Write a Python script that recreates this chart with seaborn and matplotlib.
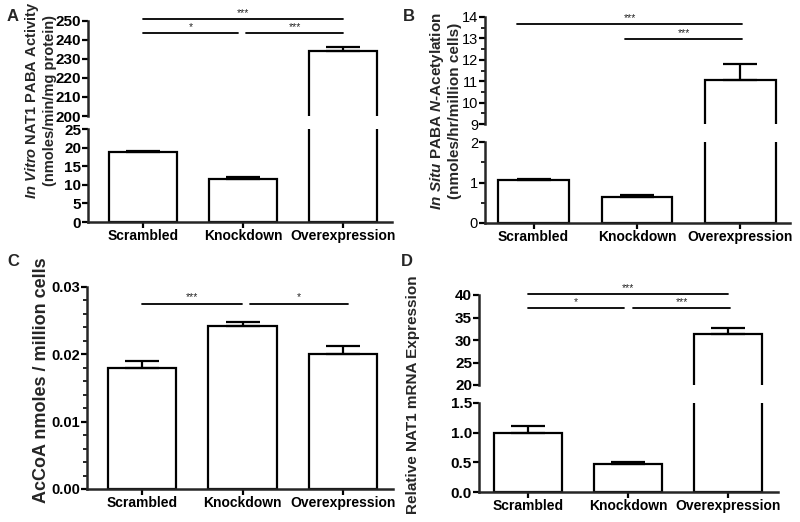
import numpy as np
import pandas as pd
import matplotlib
matplotlib.use('Agg')
import matplotlib.pyplot as plt
from matplotlib.ticker import MultipleLocator, FormatStrFormatter
import seaborn as sns

groups = ['Scrambled', 'Knockdown', 'Overexpression']

# A - in vitro NAT1 PABA activity
a_mean = [18.9, 11.6, 234.2]
a_err = [0.3, 0.6, 2.1]

# B - in situ PABA N-acetylation
b_mean = [1.05, 0.65, 11.06]
b_err = [0.04, 0.04, 0.73]

# C - AcCoA per million cells
c_mean = [0.0179, 0.0242, 0.0201]
c_err = [0.0011, 0.00055, 0.0012]

# D - relative NAT1 mRNA
d_mean = [1.0, 0.47, 31.3]
d_err = [0.11, 0.04, 1.35]

W, H = 800, 522


def box(left, right, top, bottom):
    # pixel box -> figure fraction rect
    return [left / W, 1 - bottom / H, (right - left) / W, (bottom - top) / H]


def style_axis(ax, bold=True, size=10):
    for s in ['left', 'bottom']:
        ax.spines[s].set_linewidth(1.8)
    ax.tick_params(axis='both', direction='out', length=4, width=1.6, colors='black', pad=1)
    ax.tick_params(axis='y', which='minor', length=3, width=1.4)
    for lab in ax.get_yticklabels():
        lab.set_fontweight('bold' if bold else 'normal')
        lab.set_fontsize(size)


def bars(ax, mean, err, xlim):
    df = pd.DataFrame({'group': groups, 'value': mean})
    sns.barplot(data=df, x='group', y='value', ax=ax, color='white', saturation=1,
                edgecolor='black', linewidth=1.6, width=0.68, errorbar=None)
    ax.errorbar(np.arange(len(groups)), mean, yerr=[np.zeros(len(mean)), err], fmt='none',
                ecolor='black', elinewidth=1.6, capsize=12, capthick=1.6)
    ax.set_xlim(*xlim)
    ax.set_xlabel('')
    ax.set_ylabel('')
    sns.despine(ax=ax)


def xlabels(ax):
    ax.set_xticks(range(len(groups)))
    ax.set_xticklabels(groups, fontsize=10, fontweight='bold')


def broken(fig, up_box, low_box, mean, err, xlim, up_lim, low_lim, up_step, low_step,
           fmt='%d', bold=True, size=10, minor=None):
    ax_up = fig.add_axes(up_box)
    ax_lo = fig.add_axes(low_box)
    bars(ax_up, mean, err, xlim)
    bars(ax_lo, mean, err, xlim)
    ax_up.set_ylim(*up_lim)
    ax_lo.set_ylim(*low_lim)
    ax_up.spines['bottom'].set_visible(False)
    ax_up.set_xticks([])
    ax_up.yaxis.set_major_locator(MultipleLocator(up_step))
    ax_lo.yaxis.set_major_locator(MultipleLocator(low_step))
    ax_up.yaxis.set_major_formatter(FormatStrFormatter('%d'))
    ax_lo.yaxis.set_major_formatter(FormatStrFormatter(fmt))
    if minor:
        ax_up.yaxis.set_minor_locator(MultipleLocator(minor))
        ax_lo.yaxis.set_minor_locator(MultipleLocator(minor))
    xlabels(ax_lo)
    style_axis(ax_up, bold, size)
    style_axis(ax_lo, bold, size)
    return ax_up, ax_lo


def sig(ax, x0, x1, y, label):
    ax.plot([x0, x1], [y, y], color='black', lw=1.3, clip_on=False)
    ax.annotate(label, ((x0 + x1) / 2, y), xytext=(0, 1), textcoords='offset points',
                ha='center', va='bottom', fontsize=7.5, annotation_clip=False)


sns.set_style('ticks')
plt.rcParams['font.family'] = ['Liberation Sans', 'DejaVu Sans']
plt.rcParams['mathtext.fontset'] = 'custom'
plt.rcParams['mathtext.it'] = 'Liberation Sans:italic:bold'
plt.rcParams['mathtext.rm'] = 'Liberation Sans:bold'
plt.rcParams['mathtext.bf'] = 'Liberation Sans:bold'

fig = plt.figure(figsize=(8, 5.22), dpi=100)

# Panel A
a_up, a_lo = broken(fig, box(88, 392, 21, 116), box(88, 392, 129, 222), a_mean, a_err,
                    (-0.55, 2.49), (200, 250), (0, 25), 10, 5, size=11)
sig(a_up, 0, 2, 251.0, '***')
sig(a_up, 0, 0.95, 243.7, '*')
sig(a_up, 1.03, 2, 243.7, '***')
fig.text(40 / W, 1 - 100 / H,
         '$\\mathit{In\\ Vitro}$ NAT1 PABA Activity\n(nmoles/min/mg protein)',
         rotation=90, ha='center', va='center', fontsize=10.5, fontweight='bold',
         multialignment='center')

# Panel B
b_up, b_lo = broken(fig, box(485, 790, 17, 124), box(485, 790, 142, 223), b_mean, b_err,
                    (-0.47, 2.48), (9, 14), (0, 2), 1, 1, bold=False, size=10.5, minor=0.5)
sig(b_up, -0.16, 2.02, 13.67, '***')
sig(b_up, 0.88, 2.02, 12.97, '***')
fig.text(445 / W, 1 - 111 / H,
         '$\\mathit{In\\ Situ}$ PABA $\\mathit{N}$-Acetylation\n(nmoles/hr/million cells)',
         rotation=90, ha='center', va='center', fontsize=11, fontweight='bold',
         multialignment='center')

# Panel C
c_ax = fig.add_axes(box(87, 393, 287, 489))
bars(c_ax, c_mean, c_err, (-0.55, 2.5))
c_ax.set_ylim(0, 0.03)
c_ax.yaxis.set_major_locator(MultipleLocator(0.01))
c_ax.yaxis.set_minor_locator(MultipleLocator(0.002))
c_ax.yaxis.set_major_formatter(FormatStrFormatter('%.2f'))
xlabels(c_ax)
style_axis(c_ax, True, 10.5)
sig(c_ax, 0.0, 0.99, 0.0275, '***')
sig(c_ax, 1.07, 2.05, 0.0275, '*')
fig.text(42 / W, 1 - 380 / H, 'AcCoA nmoles / million cells', rotation=90,
         ha='center', va='center', fontsize=13, fontweight='bold')

# Panel D
d_up, d_lo = broken(fig, box(479, 778, 295, 385), box(479, 778, 403, 492), d_mean, d_err,
                    (-0.49, 2.5), (20, 40), (0, 1.5), 5, 0.5, fmt='%.1f', size=11)
sig(d_up, 0, 2.0, 40.2, '***')
sig(d_up, 0, 0.96, 37.1, '*')
sig(d_up, 1.05, 2.02, 37.1, '***')
fig.text(413 / W, 1 - 395 / H, 'Relative NAT1 mRNA Expression', rotation=90,
         ha='center', va='center', fontsize=11, fontweight='bold')

# panel letters
for letter, (px, py) in zip('ABCD', [(7, 9), (403, 9), (7, 254), (401, 254)]):
    fig.text(px / W, 1 - py / H, letter, ha='left', va='top', fontsize=12, fontweight='bold')

fig.savefig('out.png', dpi=100, facecolor='white')
plt.close(fig)
